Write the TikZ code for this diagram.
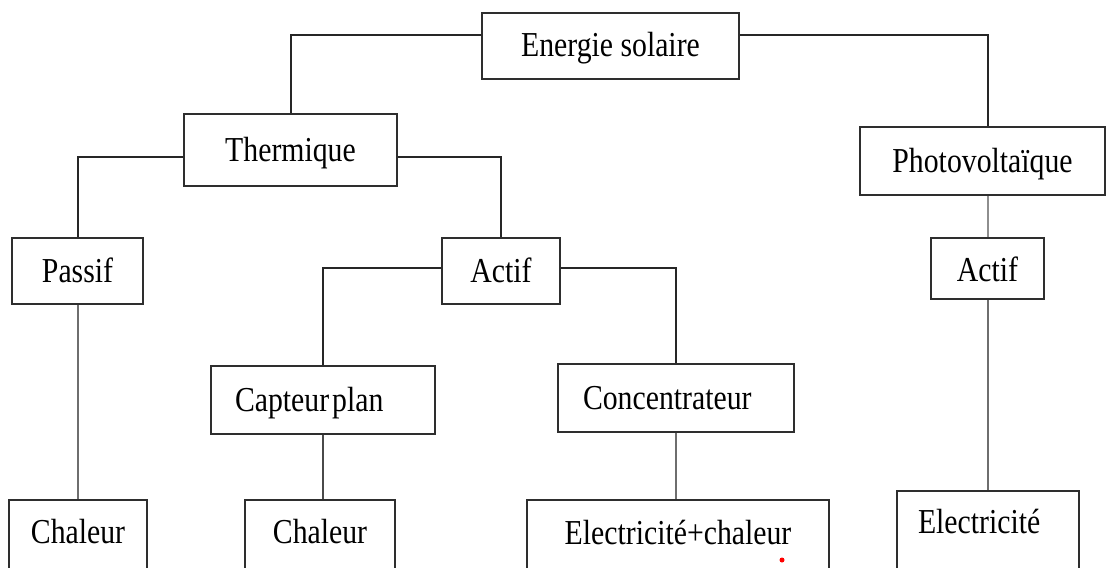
\documentclass[tikz,border=0pt]{standalone}
\usepackage{fontspec}
\setmainfont{Liberation Serif}[FakeStretch=0.85]
\usetikzlibrary{calc}
\definecolor{boxc}{HTML}{2E2E2E}
\definecolor{darkc}{HTML}{262626}
\definecolor{midc}{HTML}{4A4A4A}
\definecolor{grayc}{HTML}{6E6E6E}
\definecolor{lightc}{HTML}{8E8E8E}
\tikzset{
  box/.style={draw=boxc, line width=2pt, rectangle, inner sep=0pt,
    font=\fontsize{35}{40}\selectfont, text height=26pt, text depth=4pt},
  lbox/.style={box, align=left},
  darkline/.style={draw=darkc, line width=2pt},
  midline/.style={draw=midc, line width=2pt},
  grayline/.style={draw=grayc, line width=2pt},
  lightline/.style={draw=lightc, line width=2pt},
}
\begin{document}
\begin{tikzpicture}[x=1pt, y=-1pt]
\useasboundingbox (0,0) rectangle (1107,567);
\clip (0,0) rectangle (1107,567);
\fill[white] (0,0) rectangle (1107,567);

\node[box, minimum width=257pt, minimum height=66pt] (E) at (610.5,46) {Energie solaire};
\node[box, minimum width=213pt, minimum height=72pt] (T) at (290.5,150) {Thermique};
\node[box, minimum width=245pt, minimum height=68pt] (PV) at (982.5,161) {Photovoltaïque};
\node[box, minimum width=131pt, minimum height=66pt] (P) at (77.5,271) {Passif};
\node[box, minimum width=118pt, minimum height=66pt] (A) at (501,271) {Actif};
\node[box, minimum width=113pt, minimum height=61pt, text depth=1pt] (PVA) at (987.5,268.5) {Actif};
\node[lbox, inner xsep=24pt, text width=176pt, minimum height=68pt] (C) at (323,400) {Capteur{\kern3pt}plan};
\node[lbox, inner xsep=25pt, text width=186pt, minimum height=68pt] (Co) at (676,398) {Concentrateur};
\node[box, minimum width=138pt, minimum height=75pt, text depth=15pt] (Ch1) at (78,537.5) {Chaleur};
\node[box, minimum width=150pt, minimum height=75pt, text depth=15pt] (Ch2) at (320,537.5) {Chaleur};
\node[box, minimum width=302pt, minimum height=75pt, text depth=13pt] (EC) at (678,537.5) {Electricité+chaleur};
\node[lbox, inner xsep=21pt, text width=140pt, minimum height=84pt, text depth=26pt] (El) at (988,533) {Electricité};
\node[circle, fill=red, inner sep=0pt, minimum size=5pt] (dot) at (782,560) {};

% connectors
\draw[darkline] ([yshift=11pt]E.west) -| (T.north);
\draw[darkline] ([yshift=11pt]E.east) -| (PV.north -| PVA.north);
\draw[darkline] ([yshift=-7pt]T.west) -| (P.north);
\draw[darkline] ([yshift=-7pt]T.east) -| (A.north);
\draw[darkline] ([yshift=3pt]A.west) -| (C.north);
\draw[darkline] ([yshift=3pt]A.east) -| (Co.north);
\draw[grayline] (P.south) -- (P.south |- Ch1.north);
\draw[midline] (C.south) -- (C.south |- Ch2.north);
\draw[grayline] (Co.south) -- (Co.south |- EC.north);
\draw[lightline] (PV.south -| PVA.north) -- (PVA.north);
\draw[grayline] (PVA.south) -- (PVA.south |- El.north);
\end{tikzpicture}
\end{document}
